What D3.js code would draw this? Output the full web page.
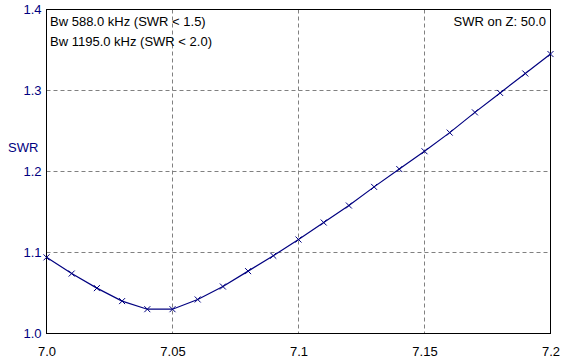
<!DOCTYPE html>
<html>
<head>
<meta charset="utf-8">
<script src="https://cdn.jsdelivr.net/npm/d3@7"></script>
<style>
  body { margin: 0; background: #fff; }
  svg { display: block; font-family: Arial, "Liberation Sans", sans-serif; }
</style>
</head>
<body>
<div id="chart"></div>
<script>
// frequency (MHz) and SWR
var freqs = [7.00, 7.01, 7.02, 7.03, 7.04, 7.05, 7.06, 7.07, 7.08, 7.09, 7.10,
             7.11, 7.12, 7.13, 7.14, 7.15, 7.16, 7.17, 7.18, 7.19, 7.20];
var swr = [1.094, 1.074, 1.056, 1.040, 1.030, 1.030, 1.042, 1.058, 1.077, 1.096, 1.116,
           1.137, 1.158, 1.181, 1.203, 1.225, 1.248, 1.273, 1.297, 1.321, 1.345];
var xTicks = [7.0, 7.05, 7.1, 7.15, 7.2];
var xTickLabels = ['7.0', '7.05', '7.1', '7.15', '7.2'];
var yTicks = [1.0, 1.1, 1.2, 1.3, 1.4];
var yTickLabels = ['1.0', '1.1', '1.2', '1.3', '1.4'];
var notes = ['Bw 588.0 kHz (SWR < 1.5)', 'Bw 1195.0 kHz (SWR < 2.0)'];
var zNote = 'SWR on Z: 50.0';

var W = 564, H = 359;
// plot box (note: "top" is reserved on window, so use other names)
var plotL = 46.5, plotR = 550.5, plotT = 9.5, plotB = 333.5;
var navy = '#000080';

var svg = d3.select('#chart').append('svg')
  .attr('width', W)
  .attr('height', H);

var x = d3.scaleLinear().domain([7.0, 7.2]).range([plotL, plotR]);
var y = d3.scaleLinear().domain([1.0, 1.4]).range([plotB, plotT]);

// dashed grid
svg.append('g').selectAll('line').data(xTicks.slice(1, -1))
  .enter().append('line')
  .attr('x1', function (d) { return Math.floor(x(d)) + 0.5; })
  .attr('x2', function (d) { return Math.floor(x(d)) + 0.5; })
  .attr('y1', plotT).attr('y2', plotB)
  .attr('stroke', '#808080')
  .attr('stroke-dasharray', '4,3');

svg.append('g').selectAll('line').data(yTicks.slice(1, -1))
  .enter().append('line')
  .attr('y1', function (d) { return Math.floor(y(d)) + 0.5; })
  .attr('y2', function (d) { return Math.floor(y(d)) + 0.5; })
  .attr('x1', plotL).attr('x2', plotR)
  .attr('stroke', '#808080')
  .attr('stroke-dasharray', '4,3');

// frame
svg.append('rect')
  .attr('x', plotL).attr('y', plotT)
  .attr('width', plotR - plotL).attr('height', plotB - plotT)
  .attr('fill', 'none')
  .attr('stroke', '#000');

// axes (labels only, the frame is the axis line)
var yAxis = d3.axisLeft(y).tickValues(yTicks)
  .tickFormat(function (d, i) { return yTickLabels[i]; })
  .tickSize(0).tickPadding(5);
var gy = svg.append('g').attr('transform', 'translate(' + plotL + ',0)').call(yAxis);
gy.select('.domain').remove();
gy.selectAll('text').attr('fill', navy).style('font-size', '13px')
  .style('font-family', 'Arial, "Liberation Sans", sans-serif');

var xAxis = d3.axisBottom(x).tickValues(xTicks)
  .tickFormat(function (d, i) { return xTickLabels[i]; })
  .tickSize(0).tickPadding(13);
var gx = svg.append('g').attr('transform', 'translate(0,' + plotB + ')').call(xAxis);
gx.select('.domain').remove();
gx.selectAll('text').attr('fill', '#000').style('font-size', '13px')
  .style('font-family', 'Arial, "Liberation Sans", sans-serif');

svg.append('text')
  .attr('x', 8).attr('y', 152)
  .attr('fill', navy)
  .style('font-size', '13px')
  .text('SWR');

// curve
var pts = freqs.map(function (f, i) { return { f: f, s: swr[i] }; });

svg.append('path')
  .datum(pts)
  .attr('fill', 'none')
  .attr('stroke', navy)
  .attr('stroke-width', 1.2)
  .attr('d', d3.line()
    .x(function (d) { return x(d.f); })
    .y(function (d) { return y(d.s); }));

// x markers
svg.append('g').selectAll('path').data(pts)
  .enter().append('path')
  .attr('transform', function (d) { return 'translate(' + x(d.f) + ',' + y(d.s) + ')'; })
  .attr('d', 'M-3,-3L3,3M-3,3L3,-3')
  .attr('stroke', navy)
  .attr('stroke-width', 1);

// notes
svg.append('g').selectAll('text').data(notes)
  .enter().append('text')
  .attr('x', 50)
  .attr('y', function (d, i) { return 26 + i * 20; })
  .attr('fill', '#000')
  .style('font-size', '13px')
  .text(function (d) { return d; });

svg.append('text')
  .attr('x', 546).attr('y', 26)
  .attr('text-anchor', 'end')
  .attr('fill', '#000')
  .style('font-size', '13px')
  .text(zNote);
</script>
</body>
</html>
